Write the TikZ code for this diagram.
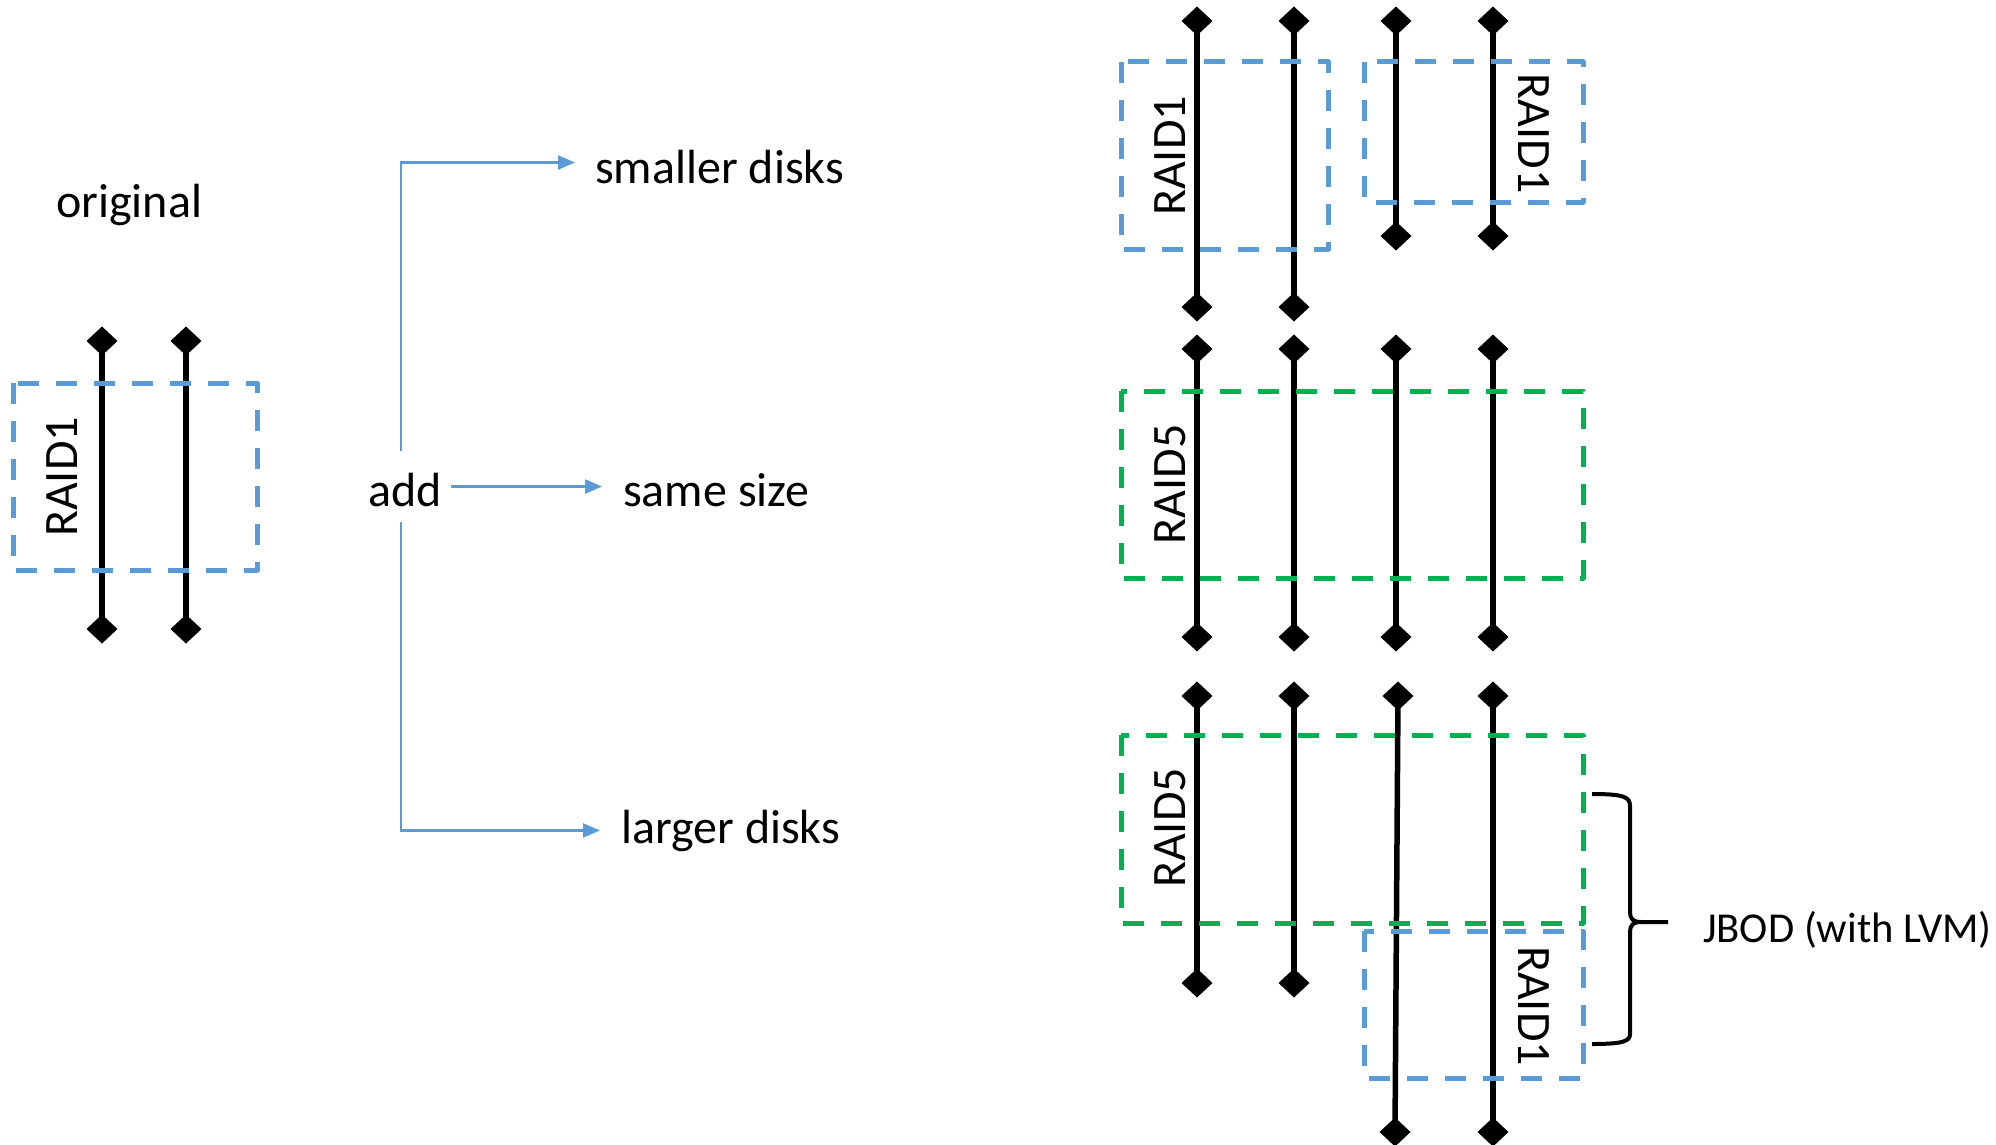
\documentclass[tikz,border=0pt]{standalone}
\usepackage{fontspec}
\setmainfont{Carlito}
\usetikzlibrary{arrows.meta,shapes.geometric}
\definecolor{rblue}{HTML}{5B9BD5}
\definecolor{rgreen}{HTML}{00B050}
\begin{document}
\begin{tikzpicture}[x=1pt,y=-1pt,
  lbl/.style={font=\fontsize{48}{57}\selectfont, inner sep=0pt},
  small/.style={font=\fontsize{42.6}{51}\selectfont, inner sep=0pt},
  dia/.style={rectangle, draw=none, inner sep=0pt, outer sep=0pt,
    minimum width=31pt, minimum height=29pt,
    path picture={\fill[black] (path picture bounding box.north) -- (path picture bounding box.east)
      -- (path picture bounding box.south) -- (path picture bounding box.west) -- cycle;}},
  disk/.style={line width=5.5pt, black},
  bluebox/.style={draw=rblue, line width=5pt, dash pattern=on 21pt off 17pt, line join=round},
  greenbox/.style={draw=rgreen, line width=5pt, dash pattern=on 21pt off 17pt, line join=round},
  arr/.style={draw=rblue, line width=2.5pt, -{Triangle[length=17pt,width=14pt]}},
  brace/.style={draw=black, line width=4pt}
]
\useasboundingbox (0,0) rectangle (1996,1145);

% ---------- left group ----------
\node[lbl, anchor=base west] (orig) at (56,217) {original};
\draw[disk] (102,341) -- (102,629);
\draw[disk] (186,341) -- (186,629);
\node[dia] (a1t) at (102,341) {};
\node[dia] (a1b) at (102,629) {};
\node[dia] (a2t) at (186,341) {};
\node[dia] (a2b) at (186,629) {};
\draw[bluebox] (13,383) rectangle (257,570);
\node[lbl, rotate=90] (lraid) at (62.5,477) {RAID1};

% ---------- middle: add ----------
\node[lbl, anchor=base west] (add) at (368,506) {add};
\node[lbl, anchor=base west] (smaller) at (595,183) {smaller disks};
\node[lbl, anchor=base west] (same) at (623,506) {same size};
\node[lbl, anchor=base west] (larger) at (621,843) {larger disks};
\draw[arr] ([xshift=-4pt,yshift=21pt]add.north) |- ([xshift=-20pt,yshift=4pt]smaller.west);
\draw[arr] ([xshift=9pt,yshift=3pt]add.east) -- ([xshift=-21pt,yshift=3pt]add.east -| same.west);
\draw[arr] ([xshift=-4pt,yshift=-15pt]add.south) |- ([xshift=-21pt]larger.west);

% ---------- right: row 1 (smaller disks) ----------
\foreach \n/\x in {1/1197,2/1294}{
  \draw[disk] (\x,21) -- (\x,307);
  \node[dia] (p\n t) at (\x,21) {};
  \node[dia] (p\n b) at (\x,307) {};
}
\foreach \n/\x in {3/1396,4/1493}{
  \draw[disk] (\x,21) -- (\x,236);
  \node[dia] (p\n t) at (\x,21) {};
  \node[dia] (p\n b) at (\x,236) {};
}
\draw[bluebox] (1121,62) rectangle (1328,249);
\draw[bluebox] (1364,62) rectangle (1583,202);
\node[lbl, rotate=90] (r1a) at (1170,156) {RAID1};
\node[lbl, rotate=-90] (r1b) at (1534,133.5) {RAID1};

% ---------- right: row 2 (same size) ----------
\foreach \n/\x in {1/1197,2/1294,3/1396,4/1493}{
  \draw[disk] (\x,349) -- (\x,637);
  \node[dia] (q\n t) at (\x,349) {};
  \node[dia] (q\n b) at (\x,637) {};
}
\draw[greenbox] (1121,391) rectangle (1583,578);
\node[lbl, rotate=90] (r5a) at (1170,484.5) {RAID5};

% ---------- right: row 3 (larger disks) ----------
\foreach \n/\x in {1/1197,2/1294}{
  \draw[disk] (\x,696) -- (\x,983);
  \node[dia] (s\n t) at (\x,696) {};
  \node[dia] (s\n b) at (\x,983) {};
}
\draw[disk] (1398,696) -- (1395,1132);
\node[dia] (s3t) at (1398,696) {};
\node[dia] (s3b) at (1395,1132) {};
\draw[disk] (1493,696) -- (1493,1132);
\node[dia] (s4t) at (1493,696) {};
\node[dia] (s4b) at (1493,1132) {};
\draw[greenbox] (1121,735) rectangle (1583,923);
\draw[bluebox] (1364,931) rectangle (1583,1078);
\node[lbl, rotate=90] (r5b) at (1170,828) {RAID5};
\node[lbl, rotate=-90] (r1c) at (1534,1006) {RAID1};

% ---------- brace + JBOD ----------
\draw[brace] (1592,794) .. controls (1624,794) and (1630,797) .. (1630,806)
  -- (1630,912) .. controls (1630,919) and (1633,922) .. (1641,922) -- (1668,922);
\draw[brace] (1641,922) .. controls (1633,922) and (1630,925) .. (1630,932)
  -- (1630,1034) .. controls (1630,1041) and (1624,1044) .. (1592,1044);
\coordinate (tip) at (1668,922);
\node[small, anchor=base west] (jbod) at (1703,942) {JBOD (with LVM)};
\end{tikzpicture}
\end{document}
